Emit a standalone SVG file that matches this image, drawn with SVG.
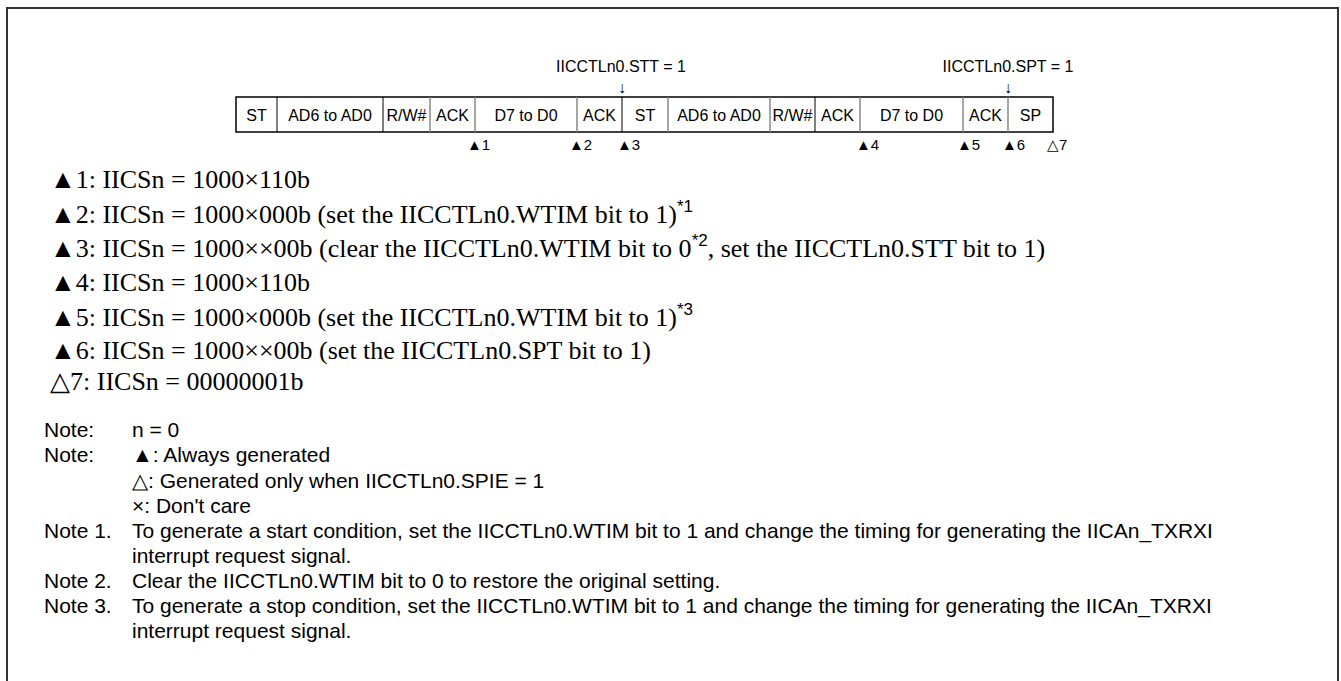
<svg xmlns="http://www.w3.org/2000/svg" width="1341" height="681" viewBox="0 0 1341 681">
<style>
.frame{fill:none;stroke:#333;stroke-width:2}
.box{fill:#fff;stroke:#000;stroke-width:1.5}
.sd{stroke:#000;stroke-width:1}
.sg{stroke:#888;stroke-width:1.5}
.cell{font-family:"Liberation Sans",Arial,sans-serif;font-size:16px;fill:#000;text-anchor:middle}
.hdr{font-family:"Liberation Sans",Arial,sans-serif;font-size:16px;fill:#000;text-anchor:middle}
.tri{font-family:"Liberation Sans",Arial,sans-serif;font-size:15px;fill:#000}
.body{font-family:"Liberation Serif","Times New Roman",serif;font-size:26px;fill:#000}
.sup{font-family:"Liberation Sans",Arial,sans-serif;font-size:17px}
.note{font-family:"Liberation Sans",Arial,sans-serif;font-size:21px;fill:#000}
</style>
<rect class="frame" x="7" y="8" width="1331" height="700"/>
<g id="frame-header">
  <g id="hdr-stt"><text class="hdr" x="621" y="72">IICCTLn0.STT = 1</text></g>
  <g id="hdr-spt"><text class="hdr" x="1008" y="72">IICCTLn0.SPT = 1</text></g>
</g>
<g id="connectors">
  <text class="hdr" x="622" y="93">↓</text>
  <text class="hdr" x="1008" y="93">↓</text>
</g>
<g id="sequence">
  <rect class="box" x="236" y="97" width="817" height="35"/>
  <line class="sd" x1="277" y1="97" x2="277" y2="132"/>
  <line class="sd" x1="383" y1="97" x2="383" y2="132"/>
  <line class="sg" x1="430" y1="97" x2="430" y2="132"/>
  <line class="sg" x1="475" y1="97" x2="475" y2="132"/>
  <line class="sg" x1="577" y1="97" x2="577" y2="132"/>
  <line class="sd" x1="622" y1="97" x2="622" y2="132"/>
  <line class="sg" x1="668" y1="97" x2="668" y2="132"/>
  <line class="sg" x1="770" y1="97" x2="770" y2="132"/>
  <line class="sd" x1="815" y1="97" x2="815" y2="132"/>
  <line class="sg" x1="860" y1="97" x2="860" y2="132"/>
  <line class="sg" x1="963" y1="97" x2="963" y2="132"/>
  <line class="sg" x1="1008" y1="97" x2="1008" y2="132"/>
  <g id="cell-st1"><text class="cell" x="256.5" y="121">ST</text></g>
  <g id="cell-ad1"><text class="cell" x="330" y="121">AD6 to AD0</text></g>
  <g id="cell-rw1"><text class="cell" x="406.5" y="121">R/W#</text></g>
  <g id="cell-ack1"><text class="cell" x="452.5" y="121">ACK</text></g>
  <g id="cell-d1"><text class="cell" x="526" y="121">D7 to D0</text></g>
  <g id="cell-ack2"><text class="cell" x="599.5" y="121">ACK</text></g>
  <g id="cell-st2"><text class="cell" x="645" y="121">ST</text></g>
  <g id="cell-ad2"><text class="cell" x="719" y="121">AD6 to AD0</text></g>
  <g id="cell-rw2"><text class="cell" x="792.5" y="121">R/W#</text></g>
  <g id="cell-ack3"><text class="cell" x="837.5" y="121">ACK</text></g>
  <g id="cell-d2"><text class="cell" x="911.5" y="121">D7 to D0</text></g>
  <g id="cell-ack4"><text class="cell" x="985.5" y="121">ACK</text></g>
  <g id="cell-sp"><text class="cell" x="1030.5" y="121">SP</text></g>
</g>
<g id="markers">
  <text class="tri" x="467" y="150">▲1</text>
  <text class="tri" x="569" y="150">▲2</text>
  <text class="tri" x="617" y="150">▲3</text>
  <text class="tri" x="856" y="150">▲4</text>
  <text class="tri" x="957" y="150">▲5</text>
  <text class="tri" x="1002" y="150">▲6</text>
  <text class="tri" x="1047" y="150">△7</text>
</g>
<g id="descriptions">
  <text class="body" x="50" y="188">▲1: IICSn = 1000×110b</text>
  <text class="body" x="50" y="223">▲2: IICSn = 1000×000b (set the IICCTLn0.WTIM bit to 1)<tspan class="sup" dy="-11">*1</tspan></text>
  <text class="body" x="50" y="257">▲3: IICSn = 1000××00b (clear the IICCTLn0.WTIM bit to 0<tspan class="sup" dy="-11">*2</tspan><tspan dy="11">, set the IICCTLn0.STT bit to 1)</tspan></text>
  <text class="body" x="50" y="291">▲4: IICSn = 1000×110b</text>
  <text class="body" x="50" y="326">▲5: IICSn = 1000×000b (set the IICCTLn0.WTIM bit to 1)<tspan class="sup" dy="-11">*3</tspan></text>
  <text class="body" x="50" y="359">▲6: IICSn = 1000××00b (set the IICCTLn0.SPT bit to 1)</text>
  <text class="body" x="50" y="390">△7: IICSn = 00000001b</text>
</g>
<g id="notes">
  <text class="note" x="44" y="437">Note:</text>
  <text class="note" x="132" y="437">n = 0</text>
  <text class="note" x="44" y="462">Note:</text>
  <text class="note" x="132" y="462">▲: Always generated</text>
  <text class="note" x="132" y="488">△: Generated only when IICCTLn0.SPIE = 1</text>
  <text class="note" x="132" y="513">×: Don't care</text>
  <text class="note" x="44" y="538">Note 1.</text>
  <text class="note" x="132" y="538">To generate a start condition, set the IICCTLn0.WTIM bit to 1 and change the timing for generating the IICAn_TXRXI</text>
  <text class="note" x="132" y="563">interrupt request signal.</text>
  <text class="note" x="44" y="588">Note 2.</text>
  <text class="note" x="132" y="588">Clear the IICCTLn0.WTIM bit to 0 to restore the original setting.</text>
  <text class="note" x="44" y="613">Note 3.</text>
  <text class="note" x="132" y="613">To generate a stop condition, set the IICCTLn0.WTIM bit to 1 and change the timing for generating the IICAn_TXRXI</text>
  <text class="note" x="132" y="638">interrupt request signal.</text>
</g>
</svg>
